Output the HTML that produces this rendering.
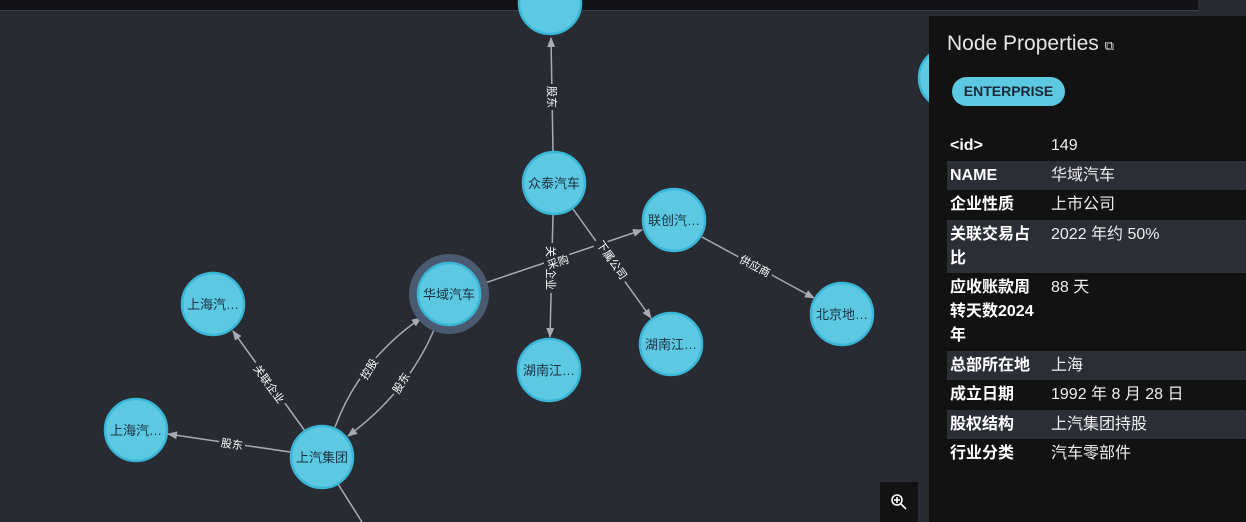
<!DOCTYPE html>
<html><head><meta charset="utf-8">
<style>
*{margin:0;padding:0;box-sizing:border-box}
html,body{width:1246px;height:522px;overflow:hidden;background:#292b33;font-family:"Liberation Sans","Noto Sans CJK SC",sans-serif}
#top{position:absolute;left:0;top:0;width:1198px;height:11px;background:#121214;border-bottom:1px solid #3a3d47}
svg{position:absolute;left:0;top:0}
#panel{position:absolute;left:929px;top:16px;width:317px;height:506px;background:#121213;color:#eee}
.t{position:absolute;left:18px;top:16px;font-size:21px;color:#e6e6e6}
.badge{position:absolute;left:23px;top:61px;width:113px;height:29px;border-radius:15px;background:#5cc8e2;color:#1a2a3a;font-weight:bold;font-size:14px;text-align:center;line-height:29px}
.row{position:absolute;left:18px;width:299px;font-size:16px;line-height:24px}
.row.s{background:#2c2e36}
.k{position:absolute;left:3px;top:3px;width:92px;font-weight:bold;color:#fff}
.v{position:absolute;left:104px;top:3px;color:#eee}
#zoom{position:absolute;left:880px;top:482px;width:38px;height:40px;background:#121213}
</style></head><body>
<div id="top"></div>
<svg width="1246" height="522" viewBox="0 0 1246 522" font-family="Liberation Sans, Noto Sans CJK SC, sans-serif">
<defs><marker id="a" markerWidth="10" markerHeight="10" refX="9" refY="5" orient="auto" markerUnits="userSpaceOnUse"><path d="M0,1 L10,5 L0,9 z" fill="#a8abb3"/></marker></defs>
<g stroke="#a8abb3" stroke-width="1.5" fill="none">
<line x1="553" y1="152" x2="551" y2="38" marker-end="url(#a)"/>
<line x1="553" y1="215" x2="550" y2="337" marker-end="url(#a)"/>
<line x1="573" y1="209" x2="651" y2="318" marker-end="url(#a)"/>
<line x1="479" y1="285" x2="642" y2="230" marker-end="url(#a)"/>
<line x1="702" y1="237" x2="814" y2="298" marker-end="url(#a)"/>
<line x1="305" y1="431" x2="233" y2="331" marker-end="url(#a)"/>
<line x1="290" y1="452" x2="168" y2="434" marker-end="url(#a)"/>
<line x1="338" y1="484" x2="362" y2="522"/>
<path d="M335,427 Q360,360 421,318" marker-end="url(#a)"/>
<path d="M436,325 Q410,390 348,436" marker-end="url(#a)"/>
</g>
<g font-size="11" fill="#fff" text-anchor="middle">
<g transform="translate(552,97) rotate(90)"><rect x="-13" y="-7" width="26" height="14" fill="#292b33"/><text y="4">股东</text></g>
<g transform="translate(551,268) rotate(90)"><rect x="-25" y="-7" width="50" height="14" fill="#292b33"/><text y="4">关联企业</text></g>
<g transform="translate(558,262) rotate(-18)"><rect x="-13" y="-7" width="26" height="14" fill="#292b33"/><text y="4">采购</text></g>
<g transform="translate(612,260) rotate(55)"><rect x="-25" y="-7" width="50" height="14" fill="#292b33"/><text y="4">下属公司</text></g>
<g transform="translate(755,266) rotate(28)"><rect x="-19" y="-7" width="38" height="14" fill="#292b33"/><text y="4">供应商</text></g>
<g transform="translate(269,384) rotate(54)"><rect x="-25" y="-7" width="50" height="14" fill="#292b33"/><text y="4">关联企业</text></g>
<g transform="translate(232,444) rotate(8)"><rect x="-13" y="-7" width="26" height="14" fill="#292b33"/><text y="4">股东</text></g>
<g transform="translate(369,369) rotate(-58)"><rect x="-13" y="-7" width="26" height="14" fill="#292b33"/><text y="4">控股</text></g>
<g transform="translate(401,383) rotate(-58)"><rect x="-13" y="-7" width="26" height="14" fill="#292b33"/><text y="4">股东</text></g>
</g>
<circle cx="449" cy="294" r="40" fill="#4a5a70"/>
<g fill="#5cc8e2" stroke="#3ab6d6" stroke-width="2.5">
<circle cx="550" cy="3" r="31"/>
<circle cx="950" cy="78" r="31"/>
<circle cx="554" cy="183" r="31"/>
<circle cx="674" cy="220" r="31"/>
<circle cx="449" cy="294" r="31"/>
<circle cx="549" cy="370" r="31"/>
<circle cx="671" cy="344" r="31"/>
<circle cx="842" cy="314" r="31"/>
<circle cx="213" cy="304" r="31"/>
<circle cx="136" cy="430" r="31"/>
<circle cx="322" cy="457" r="31"/>
</g>
<g font-size="13" fill="#1d3040" text-anchor="middle">
<text x="554" y="188">众泰汽车</text>
<text x="674" y="225">联创汽…</text>
<text x="449" y="299">华域汽车</text>
<text x="549" y="375">湖南江…</text>
<text x="671" y="349">湖南江…</text>
<text x="842" y="319">北京地…</text>
<text x="213" y="309">上海汽…</text>
<text x="136" y="435">上海汽…</text>
<text x="322" y="462">上汽集团</text>
</g>
</svg>
<div id="zoom"></div>
<svg width="1246" height="522"><g stroke="#fff" stroke-width="1.6" fill="none"><circle cx="897" cy="500" r="5"/><line x1="901" y1="504" x2="906" y2="509"/><line x1="894" y1="500" x2="900" y2="500"/><line x1="897" y1="497" x2="897" y2="503"/></g></svg>
<div id="panel">
<div class="t">Node Properties <span style="font-size:13px">⧉</span></div>
<div class="badge">ENTERPRISE</div>
<div class="row" style="top:115px;height:30px"><span class="k">&lt;id&gt;</span><span class="v">149</span></div>
<div class="row s" style="top:145px;height:29px"><span class="k">NAME</span><span class="v">华域汽车</span></div>
<div class="row" style="top:174px;height:30px"><span class="k">企业性质</span><span class="v">上市公司</span></div>
<div class="row s" style="top:204px;height:53px"><span class="k">关联交易占比</span><span class="v">2022 年约 50%</span></div>
<div class="row" style="top:257px;height:78px"><span class="k">应收账款周转天数2024年</span><span class="v">88 天</span></div>
<div class="row s" style="top:335px;height:29px"><span class="k">总部所在地</span><span class="v">上海</span></div>
<div class="row" style="top:364px;height:30px"><span class="k">成立日期</span><span class="v">1992 年 8 月 28 日</span></div>
<div class="row s" style="top:394px;height:29px"><span class="k">股权结构</span><span class="v">上汽集团持股</span></div>
<div class="row" style="top:423px;height:30px"><span class="k">行业分类</span><span class="v">汽车零部件</span></div>
</div>
</body></html>
